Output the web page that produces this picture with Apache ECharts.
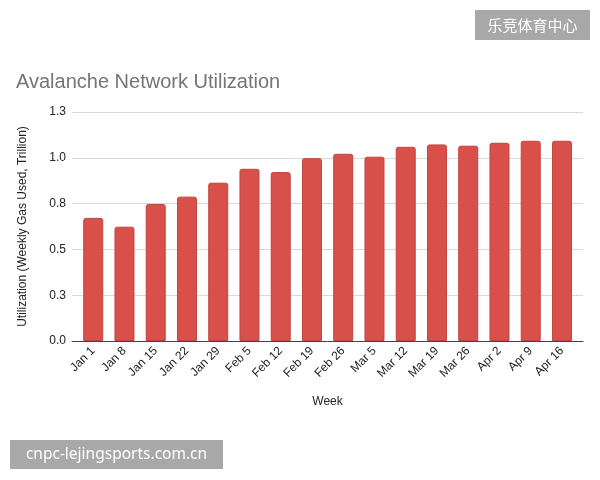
<!DOCTYPE html>
<html>
<head>
<meta charset="utf-8">
<script src="https://cdn.jsdelivr.net/npm/echarts@6/dist/echarts.min.js"></script>
<style>html,body{margin:0;padding:0;background:#fff;}#c{width:600px;height:480px;}</style>
</head>
<body>
<div id="c"></div>
<script>
const weeks = ['Jan 1','Jan 8','Jan 15','Jan 22','Jan 29','Feb 5','Feb 12','Feb 19','Feb 26','Mar 5','Mar 12','Mar 19','Mar 26','Apr 2','Apr 9','Apr 16'];
const utilization = [0.672,0.624,0.748,0.788,0.864,0.940,0.922,0.998,1.022,1.006,1.060,1.073,1.066,1.082,1.093,1.093];
const yTickValues = [0,0.25,0.5,0.75,1.0,1.25];
const yTickLabels = ['0.0','0.3','0.5','0.8','1.0','1.3'];

const chart = echarts.init(document.getElementById('c'), null, {renderer:'canvas'});
const font = 'Liberation Sans, Arial, sans-serif';
chart.setOption({
  animation:false,
  title:{text:'Avalanche Network Utilization',left:16,top:72,padding:0,
    textStyle:{fontFamily:font,fontSize:20,fontWeight:'normal',color:'#757575'}},
  grid:[
    {left:72,right:17,top:112,bottom:139},
    {left:77.6,right:22.4,top:112,bottom:139}
  ],
  xAxis:[
    {type:'value',gridIndex:0,min:0,max:1,axisLine:{show:true,onZero:false,lineStyle:{color:'#444',width:1}},
      axisTick:{show:false},axisLabel:{show:false},splitLine:{show:false},
      name:'Week',nameLocation:'middle',nameGap:55,nameTextStyle:{fontFamily:font,fontSize:12,color:'#222'}},
    {type:'category',gridIndex:1,data:weeks,axisLine:{show:false},axisTick:{show:false},
      axisLabel:{rotate:45,interval:0,margin:8,fontFamily:font,fontSize:12,color:'#222'}}
  ],
  yAxis:[
    {type:'value',gridIndex:0,min:0,max:1.25,interval:0.25,
      axisLine:{show:false},axisTick:{show:false},
      axisLabel:{margin:6,fontFamily:font,fontSize:12,color:'#222',
        formatter:function(v){const i=yTickValues.findIndex(t=>Math.abs(t-v)<1e-9);return i>=0?yTickLabels[i]:'';}},
      splitLine:{lineStyle:{color:'#d9d9d9',width:1}},
      name:'Utilization (Weekly Gas Used, Trillion)',nameLocation:'middle',nameGap:43,
      nameTextStyle:{fontFamily:font,fontSize:12,color:'#222'}},
    {type:'value',gridIndex:1,min:0,max:1.25,show:false}
  ],
  series:[{
    type:'bar',xAxisIndex:1,yAxisIndex:1,data:utilization,barWidth:'64%',
    itemStyle:{color:'#d9504a',borderColor:'#bf4540',borderWidth:1,borderRadius:[2,2,0,0]}
  }],
  graphic:[
    {type:'group',left:475,top:10,children:[
      {type:'rect',shape:{x:0,y:0,width:115,height:30},style:{fill:'#a8a8a8'}},
      {type:'text',x:57.5,y:15,style:{text:'乐竞体育中心',fill:'#fff',font:'15px "Noto Sans CJK SC", sans-serif',align:'center',verticalAlign:'middle'}}
    ]},
    {type:'group',left:10,top:440,children:[
      {type:'rect',shape:{x:0,y:0,width:213,height:29},style:{fill:'#a8a8a8'}},
      {type:'text',x:106.5,y:14.5,style:{text:'cnpc-lejingsports.com.cn',fill:'#fff',font:'15.5px "Noto Sans", sans-serif',align:'center',verticalAlign:'middle'}}
    ]}
  ]
});
</script>
</body>
</html>
